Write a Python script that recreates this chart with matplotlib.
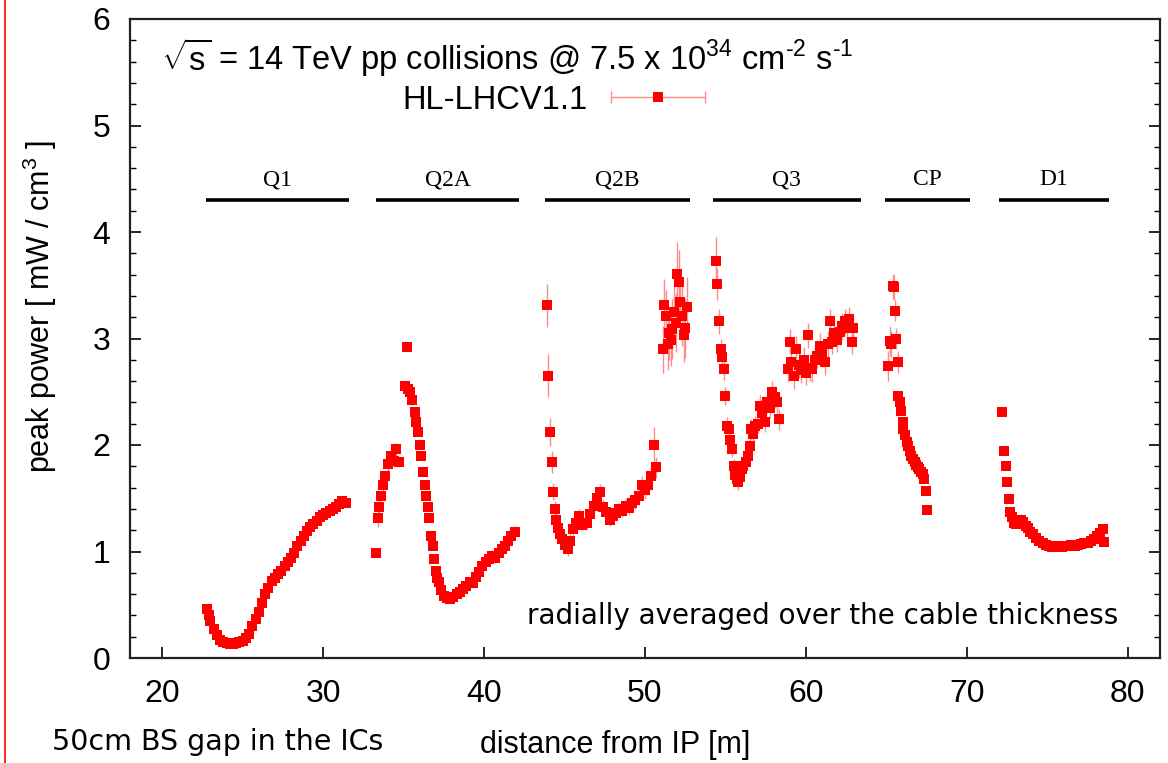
import matplotlib
matplotlib.use("Agg")
import matplotlib.pyplot as plt
from matplotlib.ticker import MultipleLocator
from matplotlib.lines import Line2D
from matplotlib.collections import LineCollection
from matplotlib.container import ErrorbarContainer
from matplotlib.legend_handler import HandlerErrorbar

plt.rcParams['font.family'] = ['Liberation Sans', 'DejaVu Sans']
plt.rcParams['mathtext.fontset'] = 'custom'
plt.rcParams['mathtext.rm'] = 'Liberation Sans'

# ---- data ----
q1_x = [22.8, 22.9, 23.0, 23.2, 23.4, 23.6, 23.8, 24.0, 24.2, 24.4, 24.6, 24.8, 25.0,
        25.2, 25.4, 25.6, 25.8, 26.0, 26.2, 26.4, 26.6, 26.8, 27.0, 27.2, 27.4, 27.6,
        27.8, 28.0, 28.2, 28.4, 28.6, 28.8, 29.0, 29.2, 29.4, 29.6, 29.8, 30.0, 30.2,
        30.4, 30.6, 30.8, 31.0, 31.2, 31.4]
q1_y = [0.46, 0.40, 0.35, 0.27, 0.22, 0.17, 0.15, 0.14, 0.13, 0.13, 0.14, 0.15, 0.16,
        0.19, 0.23, 0.30, 0.37, 0.43, 0.52, 0.60, 0.66, 0.72, 0.75, 0.79, 0.82, 0.86,
        0.90, 0.94, 0.99, 1.05, 1.10, 1.15, 1.19, 1.23, 1.26, 1.29, 1.32, 1.34, 1.36,
        1.38, 1.40, 1.42, 1.45, 1.47, 1.46]
q1_err = [0.03, 0.03, 0.02, 0.02, 0.02, 0.02, 0.02, 0.02, 0.02, 0.02, 0.02, 0.02, 0.02,
          0.02, 0.02, 0.02, 0.02, 0.02, 0.02, 0.02, 0.02, 0.02, 0.02, 0.02, 0.02, 0.02,
          0.02, 0.02, 0.03, 0.03, 0.03, 0.03, 0.03, 0.03, 0.03, 0.03, 0.03, 0.03, 0.03,
          0.03, 0.03, 0.03, 0.03, 0.03, 0.03]

q2a_x = [33.3, 33.4, 33.5, 33.6, 33.7, 33.85, 34.0, 34.2, 34.4, 34.55, 34.7, 35.1, 35.2,
         35.3, 35.4, 35.55, 35.7, 35.8, 35.9, 36.0, 36.1, 36.2, 36.3, 36.4, 36.5, 36.6,
         36.7, 36.8, 36.9, 37.0, 37.1, 37.2, 37.35, 37.5, 37.7, 37.9, 38.1, 38.3, 38.5,
         38.7, 38.9, 39.1, 39.3, 39.5, 39.7, 39.9, 40.1, 40.3, 40.5, 40.7, 40.9, 41.1,
         41.3, 41.5, 41.7, 41.9]
q2a_y = [0.99, 1.31, 1.42, 1.52, 1.62, 1.71, 1.82, 1.90, 1.85, 1.96, 1.84, 2.55, 2.92,
         2.53, 2.50, 2.42, 2.31, 2.22, 2.12, 2.00, 1.90, 1.75, 1.62, 1.52, 1.42, 1.31,
         1.15, 1.05, 0.93, 0.82, 0.75, 0.71, 0.64, 0.58, 0.56, 0.55, 0.57, 0.60, 0.62,
         0.65, 0.68, 0.71, 0.70, 0.76, 0.81, 0.86, 0.90, 0.93, 0.96, 0.94, 0.99, 1.02,
         1.05, 1.10, 1.15, 1.18]
q2a_err = [0.03, 0.08, 0.06, 0.05, 0.05, 0.05, 0.06, 0.08, 0.06, 0.06, 0.05, 0.04, 0.04,
           0.04, 0.04, 0.04, 0.04, 0.04, 0.04, 0.03, 0.03, 0.03, 0.03, 0.03, 0.03, 0.03,
           0.03, 0.03, 0.03, 0.03, 0.03, 0.03, 0.03, 0.03, 0.03, 0.03, 0.03, 0.03, 0.03,
           0.03, 0.04, 0.04, 0.04, 0.04, 0.04, 0.04, 0.04, 0.05, 0.05, 0.05, 0.05, 0.05,
           0.06, 0.06, 0.06, 0.06]

q2b_x = [43.9, 44.0, 44.1, 44.2, 44.3, 44.4, 44.5, 44.6, 44.7, 44.85, 45.0, 45.2, 45.35,
         45.5, 45.7, 45.9, 46.1, 46.4, 46.6, 46.8, 47.0, 47.2, 47.4, 47.6, 47.8, 48.0,
         48.2, 48.4, 48.6, 48.8, 49.0, 49.2, 49.4, 49.6, 49.8, 50.0, 50.2, 50.4, 50.55,
         50.7, 51.1, 51.2, 51.3, 51.4, 51.5, 51.6, 51.7, 51.8, 51.9, 52.0, 52.1, 52.2,
         52.3, 52.4, 52.5, 52.6]
q2b_y = [3.31, 2.65, 2.12, 1.84, 1.56, 1.40, 1.30, 1.22, 1.16, 1.12, 1.06, 1.02, 1.10,
         1.21, 1.27, 1.33, 1.25, 1.27, 1.35, 1.43, 1.50, 1.56, 1.42, 1.37, 1.30, 1.33,
         1.36, 1.40, 1.38, 1.43, 1.41, 1.46, 1.48, 1.52, 1.62, 1.58, 1.62, 1.71, 2.00,
         1.79, 2.90, 3.31, 3.21, 2.95, 3.05, 2.99, 3.09, 3.25, 3.15, 3.61, 3.53, 3.34,
         3.21, 3.03, 3.10, 3.30]
q2b_err = [0.20, 0.20, 0.13, 0.10, 0.08, 0.07, 0.06, 0.06, 0.06, 0.06, 0.06, 0.06, 0.06,
           0.06, 0.06, 0.07, 0.06, 0.06, 0.06, 0.07, 0.07, 0.07, 0.06, 0.06, 0.06, 0.06,
           0.06, 0.06, 0.06, 0.07, 0.07, 0.07, 0.08, 0.08, 0.09, 0.09, 0.09, 0.10, 0.17,
           0.10, 0.22, 0.25, 0.25, 0.25, 0.25, 0.25, 0.28, 0.28, 0.28, 0.30, 0.30, 0.28,
           0.28, 0.25, 0.28, 0.28]

q3_x = [54.4, 54.5, 54.6, 54.7, 54.8, 54.9, 55.0, 55.1, 55.2, 55.3, 55.4, 55.5, 55.6,
        55.7, 55.8, 55.9, 56.0, 56.1, 56.25, 56.4, 56.5, 56.6, 56.7, 56.85, 57.0, 57.15,
        57.3, 57.45, 57.6, 57.75, 57.9, 58.05, 58.2, 58.35, 58.9, 59.0, 59.1, 59.25,
        59.4, 59.55, 59.7, 59.85, 60.0, 60.1, 60.25, 60.4, 60.55, 60.7, 60.85, 61.0,
        61.2, 61.35, 61.5, 61.6, 61.75, 61.9, 62.1, 62.25, 62.4, 62.55, 62.7, 62.85, 62.95]
q3_y = [3.73, 3.51, 3.16, 2.90, 2.83, 2.71, 2.46, 2.18, 2.15, 2.05, 1.96, 1.80, 1.72,
        1.68, 1.65, 1.70, 1.77, 1.80, 1.84, 1.90, 1.99, 2.15, 2.10, 2.18, 2.20, 2.37,
        2.30, 2.22, 2.40, 2.35, 2.50, 2.45, 2.40, 2.24, 2.71, 2.97, 2.78, 2.65, 2.90,
        2.75, 2.70, 2.80, 2.68, 3.03, 2.72, 2.71, 2.80, 2.84, 2.93, 2.85, 2.78, 2.95,
        3.16, 2.97, 3.05, 2.99, 3.06, 3.12, 3.16, 3.10, 3.18, 2.97, 3.10]
q3_err = [0.22, 0.15, 0.12, 0.10, 0.10, 0.10, 0.08, 0.08, 0.08, 0.07, 0.07, 0.07, 0.07,
          0.07, 0.07, 0.07, 0.07, 0.07, 0.08, 0.08, 0.08, 0.09, 0.09, 0.09, 0.09, 0.10,
          0.10, 0.10, 0.10, 0.10, 0.10, 0.10, 0.10, 0.10, 0.12, 0.12, 0.12, 0.12, 0.12,
          0.12, 0.12, 0.12, 0.12, 0.12, 0.12, 0.12, 0.12, 0.12, 0.12, 0.12, 0.12, 0.12,
          0.12, 0.12, 0.12, 0.12, 0.12, 0.12, 0.12, 0.12, 0.12, 0.12, 0.12]

cp_x = [65.1, 65.2, 65.3, 65.4, 65.45, 65.55, 65.6, 65.7, 65.75, 65.85, 65.9, 66.0, 66.05,
        66.15, 66.25, 66.35, 66.45, 66.55, 66.65, 66.75, 66.85, 66.95, 67.05, 67.15,
        67.25, 67.35, 67.45, 67.5]
cp_y = [2.74, 2.98, 2.95, 3.49, 3.48, 3.26, 3.00, 2.78, 2.46, 2.40, 2.32, 2.22, 2.15,
        2.09, 2.03, 1.99, 1.94, 1.90, 1.87, 1.84, 1.81, 1.79, 1.77, 1.75, 1.73, 1.68,
        1.57, 1.39]
cp_err = [0.14, 0.14, 0.12, 0.12, 0.12, 0.10, 0.10, 0.10, 0.05, 0.05, 0.04, 0.04, 0.04,
          0.04, 0.04, 0.04, 0.04, 0.04, 0.04, 0.04, 0.04, 0.04, 0.04, 0.04, 0.04, 0.04,
          0.03, 0.03]

d1_x = [72.2, 72.3, 72.4, 72.5, 72.6, 72.7, 72.8, 72.9, 73.05, 73.2, 73.35, 73.5, 73.65,
        73.8, 73.95, 74.1, 74.3, 74.5, 74.7, 74.9, 75.1, 75.3, 75.5, 75.7, 75.9, 76.1,
        76.3, 76.5, 76.7, 76.9, 77.1, 77.3, 77.5, 77.7, 77.9, 78.1, 78.3, 78.45, 78.5]
d1_y = [2.31, 1.94, 1.80, 1.65, 1.49, 1.37, 1.32, 1.27, 1.26, 1.27, 1.30, 1.28, 1.24,
        1.22, 1.18, 1.16, 1.13, 1.10, 1.08, 1.06, 1.05, 1.04, 1.04, 1.05, 1.04, 1.05,
        1.05, 1.06, 1.05, 1.06, 1.07, 1.08, 1.08, 1.10, 1.12, 1.15, 1.17, 1.21, 1.09]
d1_err = [0.04, 0.03, 0.03, 0.03, 0.03, 0.03, 0.03, 0.03, 0.03, 0.04, 0.05, 0.04, 0.03,
          0.03, 0.03, 0.03, 0.03, 0.03, 0.03, 0.03, 0.03, 0.03, 0.03, 0.03, 0.03, 0.03,
          0.03, 0.03, 0.03, 0.03, 0.03, 0.03, 0.03, 0.03, 0.03, 0.03, 0.03, 0.03, 0.03]

segments = [(q1_x, q1_y, q1_err), (q2a_x, q2a_y, q2a_err), (q2b_x, q2b_y, q2b_err),
            (q3_x, q3_y, q3_err), (cp_x, cp_y, cp_err), (d1_x, d1_y, d1_err)]

magnet_names = ['Q1', 'Q2A', 'Q2B', 'Q3', 'CP', 'D1']
magnet_start = [22.7, 33.3, 43.8, 54.2, 64.9, 72.0]
magnet_end = [31.6, 42.2, 52.8, 63.4, 70.2, 78.8]
magnet_level = 4.3

red = '#ff0000'
light_red = '#ff8a8a'

fig = plt.figure(figsize=(11.68, 7.63), dpi=100)
ax = fig.add_axes([130 / 1168, 105 / 763, 1030 / 1168, 639 / 763])

for xs, ys, es in segments:
    ax.errorbar(xs, ys, yerr=es, fmt='s', color=red, ms=7.5, mew=0,
                ecolor=light_red, elinewidth=1, capsize=3, capthick=1, zorder=3)

# magnet bars and names
ax.hlines([magnet_level] * len(magnet_names), magnet_start, magnet_end,
          colors='black', linewidth=2.6)
for name, a, b in zip(magnet_names, magnet_start, magnet_end):
    ax.text((a + b) / 2, magnet_level + 0.09, name, ha='center', va='bottom',
            fontsize=17, family='Liberation Serif')

ax.text(19.9, 5.64,
        r'$\sqrt{\rm s}$ = 14 TeV pp collisions @ 7.5 x 10$^{34}$ cm$^{\text{-2}}$ s$^{\text{-1}}$',
        fontsize=23.5, ha='left', va='center')

ax.text(79.4, 0.39, 'radially averaged over the cable thickness', family='DejaVu Sans',
        fontsize=20, ha='right', va='center')

# legend: label followed by a horizontal error-bar sample
leg_marker = Line2D([], [], marker='s', ls='none', color=red, ms=7, mew=0)
leg_cap = Line2D([], [], marker='|', ls='none', color=light_red, ms=8, mew=1)
leg_bar = LineCollection([], colors=light_red, linewidths=1)
leg_handle = ErrorbarContainer((leg_marker, (leg_cap, leg_cap), (leg_bar,)),
                               has_xerr=True, has_yerr=False)
ax.legend([leg_handle], ['HL-LHCV1.1'], loc='center left',
          bbox_to_anchor=(0.264, 0.873), frameon=False, markerfirst=False,
          fontsize=23.5, handlelength=2.95, handletextpad=0.7, borderpad=0,
          borderaxespad=0, numpoints=1,
          handler_map={ErrorbarContainer: HandlerErrorbar(xerr_size=1.45)})

ax.set_xlim(18, 82)
ax.set_ylim(0, 6)
ax.xaxis.set_major_locator(MultipleLocator(10))
ax.yaxis.set_major_locator(MultipleLocator(1))
ax.yaxis.set_minor_locator(MultipleLocator(0.2))
ax.tick_params(axis='both', which='major', direction='in', length=8, width=1.2,
               labelsize=23, right=True)
ax.tick_params(axis='x', which='major', pad=15)
ax.tick_params(axis='y', which='major', pad=14)
ax.tick_params(axis='y', which='minor', direction='in', length=4, width=1, right=True)
for s in ax.spines.values():
    s.set_linewidth(1.6)
    s.set_color('#222222')

ax.set_xlabel('distance from IP [m]', fontsize=22)
ax.xaxis.set_label_coords(0.471, -0.136)
ax.xaxis.label.set_va('center')
ax.set_ylabel(r'peak power [ mW / cm$^3$ ]', fontsize=22)
ax.yaxis.set_label_coords(-0.0875, 0.55)
ax.yaxis.label.set_va('center')

fig.text(52 / 1168, 1 - 742 / 763, '50cm BS gap in the ICs', family='DejaVu Sans',
         fontsize=20.5, ha='left', va='center')

# red vertical rule at the left edge of the slide
fig.add_artist(Line2D([5 / 1168, 5 / 1168], [0, 1], color='red', linewidth=1.2,
                      transform=fig.transFigure))

fig.savefig('out.png', dpi=100)
